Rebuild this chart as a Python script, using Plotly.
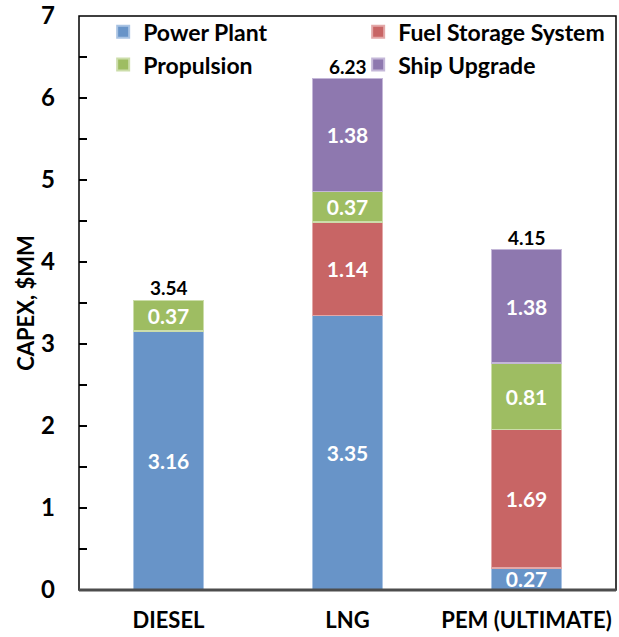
import plotly.graph_objects as go

categories = ["DIESEL", "LNG", "PEM (ULTIMATE)"]
power_plant = [3.16, 3.35, 0.27]
fuel_storage = [None, 1.14, 1.69]
propulsion = [0.37, 0.37, 0.81]
ship_upgrade = [None, 1.38, 1.38]
totals = [3.54, 6.23, 4.15]

series = [
    ("Power Plant", power_plant, "#6894C8", "#A9C3E3"),
    ("Fuel Storage System", fuel_storage, "#C86565", "#E3A8A8"),
    ("Propulsion", propulsion, "#9EBD62", "#CCDDAA"),
    ("Ship Upgrade", ship_upgrade, "#8E78AF", "#C4B7D8"),
]

FONT = "Lato"

fig = go.Figure()
for name, vals, color, edge in series:
    fig.add_trace(go.Bar(
        name=name,
        x=categories,
        y=vals,
        marker=dict(color=color, line=dict(color=edge, width=1.5)),
        texttemplate="%{y:.2f}",
        textposition="inside",
        insidetextanchor="middle",
        constraintext="none",
        textangle=0,
        textfont=dict(family=FONT, size=21, color="white", weight="bold"),
    ))

for cat, tot in zip(categories, totals):
    fig.add_annotation(
        x=cat, y=tot, text=f"{tot:.2f}", showarrow=False,
        yanchor="bottom", yshift=-1,
        font=dict(family=FONT, size=19, color="black", weight="bold"),
    )

# plot-area frame
fig.add_shape(type="rect", xref="paper", yref="paper", x0=0, y0=0, x1=1, y1=1,
              line=dict(color="black", width=1.5), layer="above")
fig.add_shape(type="line", xref="paper", yref="paper", x0=0, y0=0, x1=1, y1=0,
              line=dict(color="#4D4D4D", width=3), layer="above")

fig.update_layout(
    width=619, height=637,
    margin=dict(l=79, r=3, t=16, b=47),
    paper_bgcolor="white", plot_bgcolor="white",
    barmode="stack",
    bargap=0.61,
    font=dict(family=FONT, color="black"),
    showlegend=True,
    legend=dict(
        orientation="h", x=0.045, y=1.01, xanchor="left", yanchor="top",
        entrywidth=210, entrywidthmode="pixels", traceorder="normal",
        font=dict(family=FONT, size=23, color="black", weight="bold"),
        bgcolor="rgba(0,0,0,0)", tracegroupgap=0, itemsizing="constant",
    ),
    xaxis=dict(
        showline=False, showgrid=False, ticks="", automargin=False,
        tickfont=dict(family=FONT, size=22, color="black", weight="bold"),
        ticklabelstandoff=15,
    ),
    yaxis=dict(
        range=[0, 7], dtick=1, showgrid=False, zeroline=False, automargin=False,
        ticks="inside", ticklen=8, tickcolor="black", tickwidth=1.5,
        minor=dict(dtick=0.5, ticks="inside", ticklen=8, tickcolor="black", tickwidth=1.5),
        tickfont=dict(family=FONT, size=24, color="black", weight="bold"),
        ticklabelstandoff=23,
        title=dict(text="CAPEX, $MM", standoff=0,
                   font=dict(family=FONT, size=22, color="black", weight="bold")),
    ),
)

fig.write_html("out.html")
